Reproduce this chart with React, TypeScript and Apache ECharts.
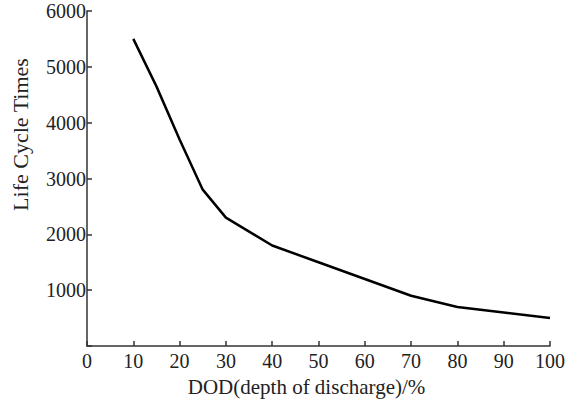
import React, { useEffect, useRef } from "react";
import * as echarts from "echarts";

const dodValues = [10, 15, 20, 25, 30, 40, 50, 60, 70, 80, 90, 100];
const cycleTimes = [5500, 4650, 3700, 2800, 2300, 1800, 1500, 1200, 900, 700, 600, 500];
const xAxisTitle = "DOD(depth of discharge)/%";
const yAxisTitle = "Life Cycle Times";

export default function App() {
  const ref = useRef<HTMLDivElement>(null);
  useEffect(() => {
    if (!ref.current) return;
    const chart = echarts.init(ref.current, null, { renderer: "svg" });
    const font = "Liberation Serif";
    chart.setOption({
      animation: false,
      backgroundColor: "#ffffff",
      grid: { left: 87, right: 22, top: 11, bottom: 60, containLabel: false },
      xAxis: {
        type: "value",
        min: 0,
        max: 100,
        interval: 10,
        name: xAxisTitle,
        nameLocation: "middle",
        nameGap: 30,
        nameTextStyle: { fontFamily: font, fontSize: 21, color: "#222", verticalAlign: "top", padding: [0, 24, 0, 0] },
        axisLine: { show: true, lineStyle: { color: "#333", width: 1.5 } },
        axisTick: { show: true, inside: true, length: 5, lineStyle: { color: "#333", width: 1.5 } },
        axisLabel: { fontFamily: font, fontSize: 20, color: "#222", margin: 5 },
        splitLine: { show: false },
      },
      yAxis: {
        type: "value",
        min: 0,
        max: 6000,
        interval: 1000,
        name: yAxisTitle,
        nameLocation: "middle",
        nameGap: 56,
        nameTextStyle: { fontFamily: font, fontSize: 22, color: "#222", padding: [0, 0, 0, 88] },
        axisLine: { show: true, lineStyle: { color: "#333", width: 1.5 } },
        axisTick: { show: true, inside: true, length: 5, lineStyle: { color: "#333", width: 1.5 } },
        axisLabel: {
          fontFamily: font,
          fontSize: 20,
          color: "#222",
          margin: 1,
          formatter: (v: number) => (v === 0 ? "" : String(v)),
        },
        splitLine: { show: false },
      },
      series: [
        {
          type: "line",
          data: dodValues.map((x, i) => [x, cycleTimes[i]]),
          showSymbol: false,
          lineStyle: { color: "#000", width: 2.5 },
        },
      ],
    });
    return () => chart.dispose();
  }, []);
  return (
    <div
      ref={ref}
      style={{ position: "absolute", left: 0, top: 0, width: 572, height: 406 }}
    />
  );
}
